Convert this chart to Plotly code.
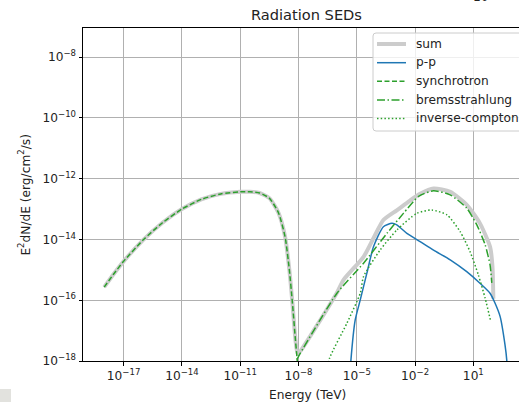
import numpy as np
import plotly.graph_objects as go

# ---- data (log10 of energy in TeV, log10 of E^2 dN/dE in erg/cm^2/s) ----
sync_logE = [-18.0, -17.5, -17.0, -16.0, -15.0, -14.0, -13.0, -12.0, -11.0, -10.5, -10.0,
             -9.5, -9.03, -8.69, -8.47, -8.31, -8.17, -8.08, -7.98]
sync_logF = [-15.57, -15.13, -14.72, -14.02, -13.45, -13.0, -12.68, -12.50, -12.43, -12.43, -12.47,
             -12.64, -13.12, -13.91, -15.0, -16.1, -17.2, -17.86, -18.6]

brems_logE = [-8.08, -7.91, -6.02, -4.65, -3.45, -2.61, -1.8, -1.05, -0.19, 0.66, 1.18, 1.61, 1.86, 1.95]
brems_logF = [-17.95, -17.75, -15.77, -14.78, -13.80, -13.15, -12.57, -12.40, -12.53, -12.97,
              -13.52, -14.18, -14.84, -15.43]

ic_logE = [-6.5, -6.40, -5.51, -4.82, -4.65, -3.80, -2.94, -1.91, -1.14, -0.36, 0.32, 0.83, 1.26, 1.61, 1.90]
ic_logF = [-18.3, -17.91, -16.76, -15.77, -15.22, -14.35, -13.69, -13.14, -13.03, -13.19, -13.74,
           -14.40, -15.17, -15.94, -16.71]

pp_logE = [-5.35, -5.30, -5.08, -4.82, -4.48, -4.14, -3.63, -3.19, -2.94, -2.42, -1.74, -1.05,
           -0.19, 0.66, 1.34, 1.86, 2.12, 2.38, 2.63, 2.72, 2.76]
pp_logF = [-18.5, -17.97, -16.65, -15.99, -15.11, -14.24, -13.58, -13.47, -13.52, -13.80, -14.07,
           -14.35, -14.67, -15.06, -15.44, -15.77, -16.10, -16.54, -17.47, -17.97, -18.5]

sum_logE = [-18.0, -17.5, -17.0, -16.0, -15.0, -14.0, -13.0, -12.0, -11.0, -10.5, -10.0,
            -9.5, -9.03, -8.69, -8.47, -8.31, -8.17, -8.05, -7.91, -6.02, -5.68, -4.65, -4.14,
            -3.63, -2.94, -2.26, -1.74, -1.05, -0.19, 0.66, 1.34, 1.86, 1.98, 2.03]
sum_logF = [-15.57, -15.13, -14.72, -14.02, -13.45, -13.0, -12.68, -12.50, -12.43, -12.43, -12.47,
            -12.64, -13.12, -13.91, -15.0, -16.1, -17.2, -17.75, -17.68, -15.75, -15.33, -14.57,
            -13.96, -13.36, -13.04, -12.72, -12.50, -12.32, -12.43, -12.86, -13.47, -14.24,
            -14.85, -15.95]

series_names = ['sum', 'p-p', 'synchrotron', 'bremsstrahlung', 'inverse-compton']

xtick_exp = [-17, -14, -11, -8, -5, -2, 1]
ytick_exp = [-8, -10, -12, -14, -16, -18]

def sup(e):
    s = str(e).replace('-', '\u2212')
    return f"10<sup>{s}</sup>"

def pw(a):
    return 10.0 ** np.array(a)

GREEN = '#2ca02c'
SM = 0.6
styles = [
    dict(color='#cccccc', width=4),
    dict(color='#1f77b4', width=1.5),
    dict(color=GREEN, width=1.5, dash='5px,2.5px'),
    dict(color=GREEN, width=1.5, dash='8px,2.5px,1.5px,2.5px'),
    dict(color=GREEN, width=1.5, dash='1.5px,2.2px'),
]
series = [(sum_logE, sum_logF), (pp_logE, pp_logF), (sync_logE, sync_logF),
          (brems_logE, brems_logF), (ic_logE, ic_logF)]

fig = go.Figure()
for name, (lx, ly), st in zip(series_names, series, styles):
    fig.add_trace(go.Scatter(x=pw(lx), y=pw(ly), mode='lines', name=name, showlegend=False,
                             line=dict(shape='spline', smoothing=SM, **st)))

FONT = 'DejaVu Sans'
FS = 12.2
TXT = '#222222'
L, T, B = 83, 28, 41
W, H = 519, 402
pw_w = W - L
ph = H - T - B

def px_to_paper_x(px):
    return (px - L) / pw_w

def px_to_paper_y(py):
    return (H - B - py) / ph

fig.update_layout(
    width=W, height=H,
    margin=dict(l=L, r=0, t=T, b=B, pad=0, autoexpand=False),
    paper_bgcolor='white', plot_bgcolor='white',
    font=dict(family=FONT, size=FS, color=TXT),
    showlegend=False,
    xaxis=dict(type='log', range=[-19.09, 3.35],
               tickvals=[10.0 ** e for e in xtick_exp], ticktext=[sup(e) for e in xtick_exp],
               showgrid=True, gridcolor='#b0b0b0', gridwidth=0.8,
               showline=True, linecolor='black', linewidth=1, mirror=True,
               ticks='outside', ticklen=3.5, tickcolor='black', tickwidth=1,
               tickfont=dict(family=FONT, size=FS, color=TXT)),
    yaxis=dict(type='log', range=[-18, -7.04],
               tickvals=[10.0 ** e for e in ytick_exp], ticktext=[sup(e) for e in ytick_exp],
               showgrid=True, gridcolor='#b0b0b0', gridwidth=0.8,
               showline=True, linecolor='black', linewidth=1, mirror=False,
               ticks='outside', ticklen=3.5, tickcolor='black', tickwidth=1,
               tickfont=dict(family=FONT, size=FS, color=TXT)),
)

# legend (matplotlib style box, partly beyond the right edge like the reference)
bx0, by0, bx1, by1, r = 373, 33, 540, 131, 3
X = px_to_paper_x
Y = px_to_paper_y
path = (f"M {X(bx0 + r)} {Y(by0)} L {X(bx1)} {Y(by0)} L {X(bx1)} {Y(by1)} "
        f"L {X(bx0 + r)} {Y(by1)} Q {X(bx0)} {Y(by1)} {X(bx0)} {Y(by1 - r)} "
        f"L {X(bx0)} {Y(by0 + r)} Q {X(bx0)} {Y(by0)} {X(bx0 + r)} {Y(by0)} Z")
fig.add_shape(type='path', xref='paper', yref='paper', path=path,
              fillcolor='rgba(255,255,255,0.8)', line=dict(color='#cccccc', width=1), layer='above')
row_y = [44, 62.7, 81.3, 100, 118.5]
for name, st, yy in zip(series_names, styles, row_y):
    fig.add_shape(type='line', xref='paper', yref='paper', x0=X(377), x1=X(406), y0=Y(yy), y1=Y(yy),
                  line=dict(color=st['color'], width=st['width'], dash=st.get('dash', 'solid')),
                  layer='above')
    fig.add_annotation(text=name, xref='paper', yref='paper', x=X(413.5), y=Y(yy - 0.5),
                       xanchor='left', yanchor='middle', showarrow=False,
                       font=dict(family=FONT, size=FS, color=TXT))

fig.add_annotation(text='Radiation SEDs', xref='paper', yref='paper',
                   x=X(306), y=Y(14), xanchor='center', yanchor='middle',
                   showarrow=False, font=dict(family=FONT, size=14.6, color=TXT))
fig.add_annotation(text='Energy (TeV)', xref='paper', yref='paper',
                   x=X(307), y=Y(386), xanchor='center', yanchor='top',
                   showarrow=False, font=dict(family=FONT, size=FS, color=TXT))
fig.add_annotation(text='E<sup>2</sup>dN/dE (erg/cm<sup>2</sup>/s)', xref='paper', yref='paper',
                   x=X(24), y=Y(194.6), xanchor='center', yanchor='middle',
                   textangle=-90, showarrow=False, font=dict(family=FONT, size=FS, color=TXT))
fig.add_annotation(text='10', xref='paper', yref='paper',
                   x=X(481), y=Y(-3), xanchor='center', yanchor='middle',
                   showarrow=False, font=dict(family=FONT, size=FS, color=TXT))
fig.add_shape(type='rect', xref='paper', yref='paper',
              x0=X(0), x1=X(11), y0=Y(389), y1=Y(402),
              fillcolor='#e2e2de', line=dict(width=0), layer='above')

fig.write_html('out.html')
